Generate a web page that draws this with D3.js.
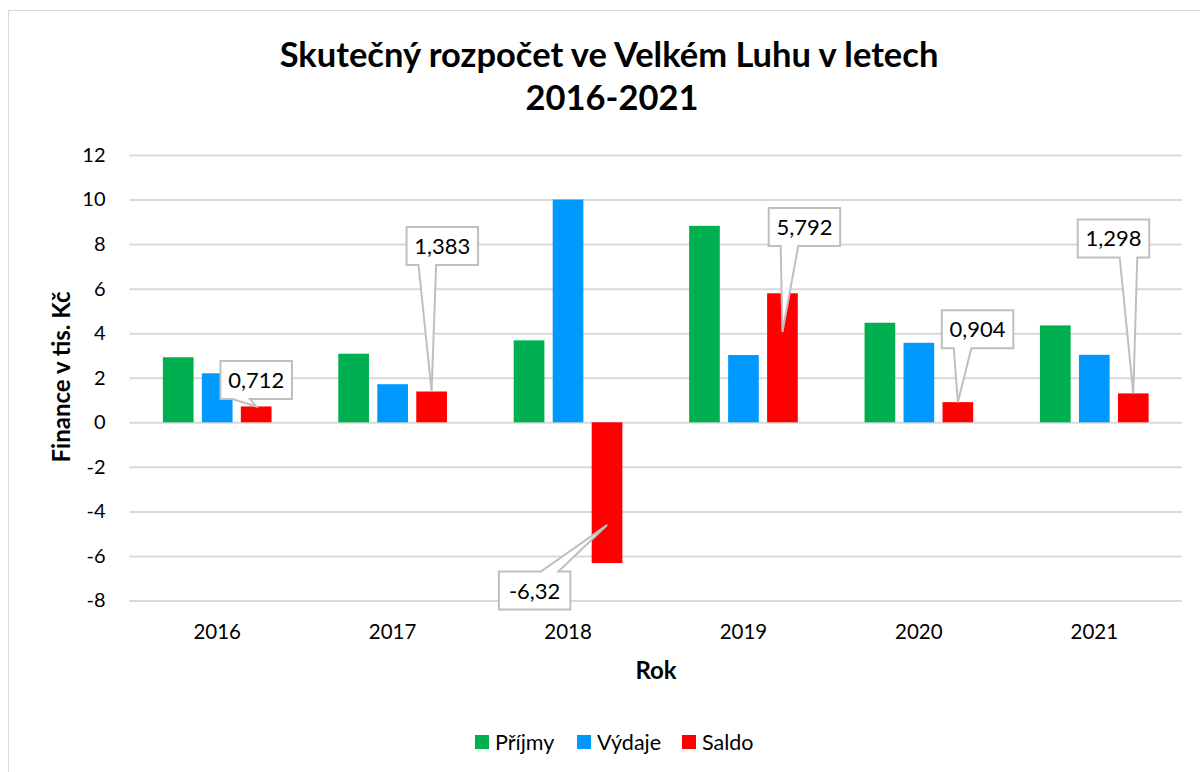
<!DOCTYPE html>
<html>
<head>
<meta charset="utf-8">
<script src="https://cdn.jsdelivr.net/npm/d3@7"></script>
<style>
  body { margin: 0; background: #fff; }
  text { font-family: Lato, "Open Sans", sans-serif; }
</style>
</head>
<body>
<div id="chart"></div>
<script>
// data
var years = ["2016", "2017", "2018", "2019", "2020", "2021"];
var series = ["Příjmy", "Výdaje", "Saldo"];
var prijmy = [2.92, 3.08, 3.68, 8.82, 4.47, 4.35];
var vydaje = [2.2, 1.71, 10.0, 3.02, 3.57, 3.03];
var saldo = [0.712, 1.383, -6.32, 5.792, 0.904, 1.298];
var yTicks = [-8, -6, -4, -2, 0, 2, 4, 6, 8, 10, 12];
var colors = ["#00B050", "#0099FF", "#FF0000"];

// callout placement for saldo labels (box offset from pointer tip, tip as share of the bar)
var callouts = [
  {dx: 0, dy: -26.5, tip: 1},
  {dx: 10.7, dy: -145.5, tip: 1},
  {dx: -72.4, dy: 65.5, tip: 0.73},
  {dx: 22, dy: -105, tip: 0.70},
  {dx: 19.7, dy: -72.8, tip: 1},
  {dx: -19.8, dy: -155, tip: 1}
];

var w = 1200, h = 772;
var plotL = 129.5, plotR = 1182, plotT = 155, plotB = 600.5;

var svg = d3.select("#chart").append("svg")
  .attr("width", w)
  .attr("height", h);

// outer frame
svg.append("rect")
  .attr("x", 8.5).attr("y", 10.5)
  .attr("width", 1200).attr("height", 800)
  .attr("fill", "#fff")
  .attr("stroke", "#D9D9D9");

var x0 = d3.scaleBand().domain(years).range([plotL, plotR]);
var x1 = d3.scaleBand().domain(series).range([0, x0.bandwidth()])
  .paddingInner(0.213).paddingOuter(0.856);
var y = d3.scaleLinear().domain([-8, 12]).range([plotB, plotT]);

// title
var title = svg.append("text")
  .attr("text-anchor", "middle")
  .attr("font-size", "34.5px")
  .attr("font-weight", "bold")
  .attr("fill", "#000");
title.append("tspan").attr("x", 609).attr("y", 67).text("Skutečný rozpočet ve Velkém Luhu v letech");
title.append("tspan").attr("x", 612).attr("y", 110).text("2016-2021");

// y axis + gridlines
var yAxis = svg.append("g")
  .attr("transform", "translate(" + plotL + ",0)")
  .call(d3.axisLeft(y).tickValues(yTicks).tickFormat(String)
    .tickSize(-(plotR - plotL)).tickPadding(24));
yAxis.select(".domain").remove();
yAxis.selectAll("line").attr("stroke", "#D9D9D9").attr("stroke-width", 2);
yAxis.selectAll("text")
  .attr("font-size", "20px")
  .attr("fill", "#000")
  .style("font-family", "Lato, sans-serif");

// x axis labels
var xAxis = svg.append("g")
  .attr("transform", "translate(0," + plotB + ")")
  .call(d3.axisBottom(x0).tickSize(0).tickPadding(24));
xAxis.select(".domain").remove();
xAxis.selectAll("text")
  .attr("font-size", "20.5px")
  .attr("fill", "#000")
  .style("font-family", "Lato, sans-serif");

// axis titles
svg.append("text")
  .attr("transform", "translate(70,377) rotate(-90)")
  .attr("text-anchor", "middle")
  .attr("font-size", "24px")
  .attr("font-weight", "bold")
  .text("Finance v tis. Kč");

svg.append("text")
  .attr("x", 656).attr("y", 679)
  .attr("text-anchor", "middle")
  .attr("font-size", "24px")
  .attr("font-weight", "bold")
  .text("Rok");

// bars
var rows = years.map(function (yr, i) {
  return {year: yr, values: [prijmy[i], vydaje[i], saldo[i]]};
});

var groups = svg.selectAll(".year")
  .data(rows)
  .enter()
  .append("g")
  .attr("class", "year")
  .attr("transform", function (d) { return "translate(" + x0(d.year) + ",0)"; });

groups.selectAll("rect")
  .data(function (d) { return d.values.map(function (v, j) { return {s: series[j], v: v, c: colors[j]}; }); })
  .enter()
  .append("rect")
  .attr("x", function (d) { return x1(d.s); })
  .attr("y", function (d) { return y(Math.max(0, d.v)); })
  .attr("width", x1.bandwidth())
  .attr("height", function (d) { return Math.abs(y(d.v) - y(0)); })
  .attr("fill", function (d) { return d.c; });

// saldo callouts
var bw = 71.5, bh = 38, half = 8.8;
saldo.forEach(function (v, i) {
  var c = callouts[i];
  var tx = x0(years[i]) + x1("Saldo") + x1.bandwidth() / 2;
  var ty = y(v * c.tip);
  var cx = tx + c.dx, cy = ty + c.dy;
  var bx = cx - bw / 2, by = cy - bh / 2;
  var side = (tx - cx) > 0 ? 1 : -1;
  var mid = cx + side * 15;
  var edge = ty > cy ? by + bh : by;
  // wedge goes into the edge facing the tip
  var path;
  if (ty > cy) {
    path = [[bx, by], [bx + bw, by], [bx + bw, edge], [mid + half, edge], [tx, ty], [mid - half, edge], [bx, edge]];
  } else {
    path = [[bx, edge], [mid - half, edge], [tx, ty], [mid + half, edge], [bx + bw, edge], [bx + bw, by + bh], [bx, by + bh]];
  }
  svg.append("path")
    .attr("d", d3.line()(path) + "Z")
    .attr("fill", "#fff")
    .attr("stroke", "#BFBFBF")
    .attr("stroke-width", 2);
  svg.append("text")
    .attr("x", cx).attr("y", cy + 8)
    .attr("text-anchor", "middle")
    .attr("font-size", "22px")
    .attr("fill", "#000")
    .text(String(v).replace(".", ","));
});

// legend
var legendX = [475, 577, 682];
var legend = svg.selectAll(".legend")
  .data(series)
  .enter()
  .append("g")
  .attr("class", "legend")
  .attr("transform", function (d, i) { return "translate(" + legendX[i] + ",735)"; });
legend.append("rect")
  .attr("width", 14).attr("height", 14)
  .attr("fill", function (d, i) { return colors[i]; });
legend.append("text")
  .attr("x", 20).attr("y", 14.5)
  .attr("font-size", "21.5px")
  .attr("fill", "#000")
  .text(function (d) { return d; });
</script>
</body>
</html>
